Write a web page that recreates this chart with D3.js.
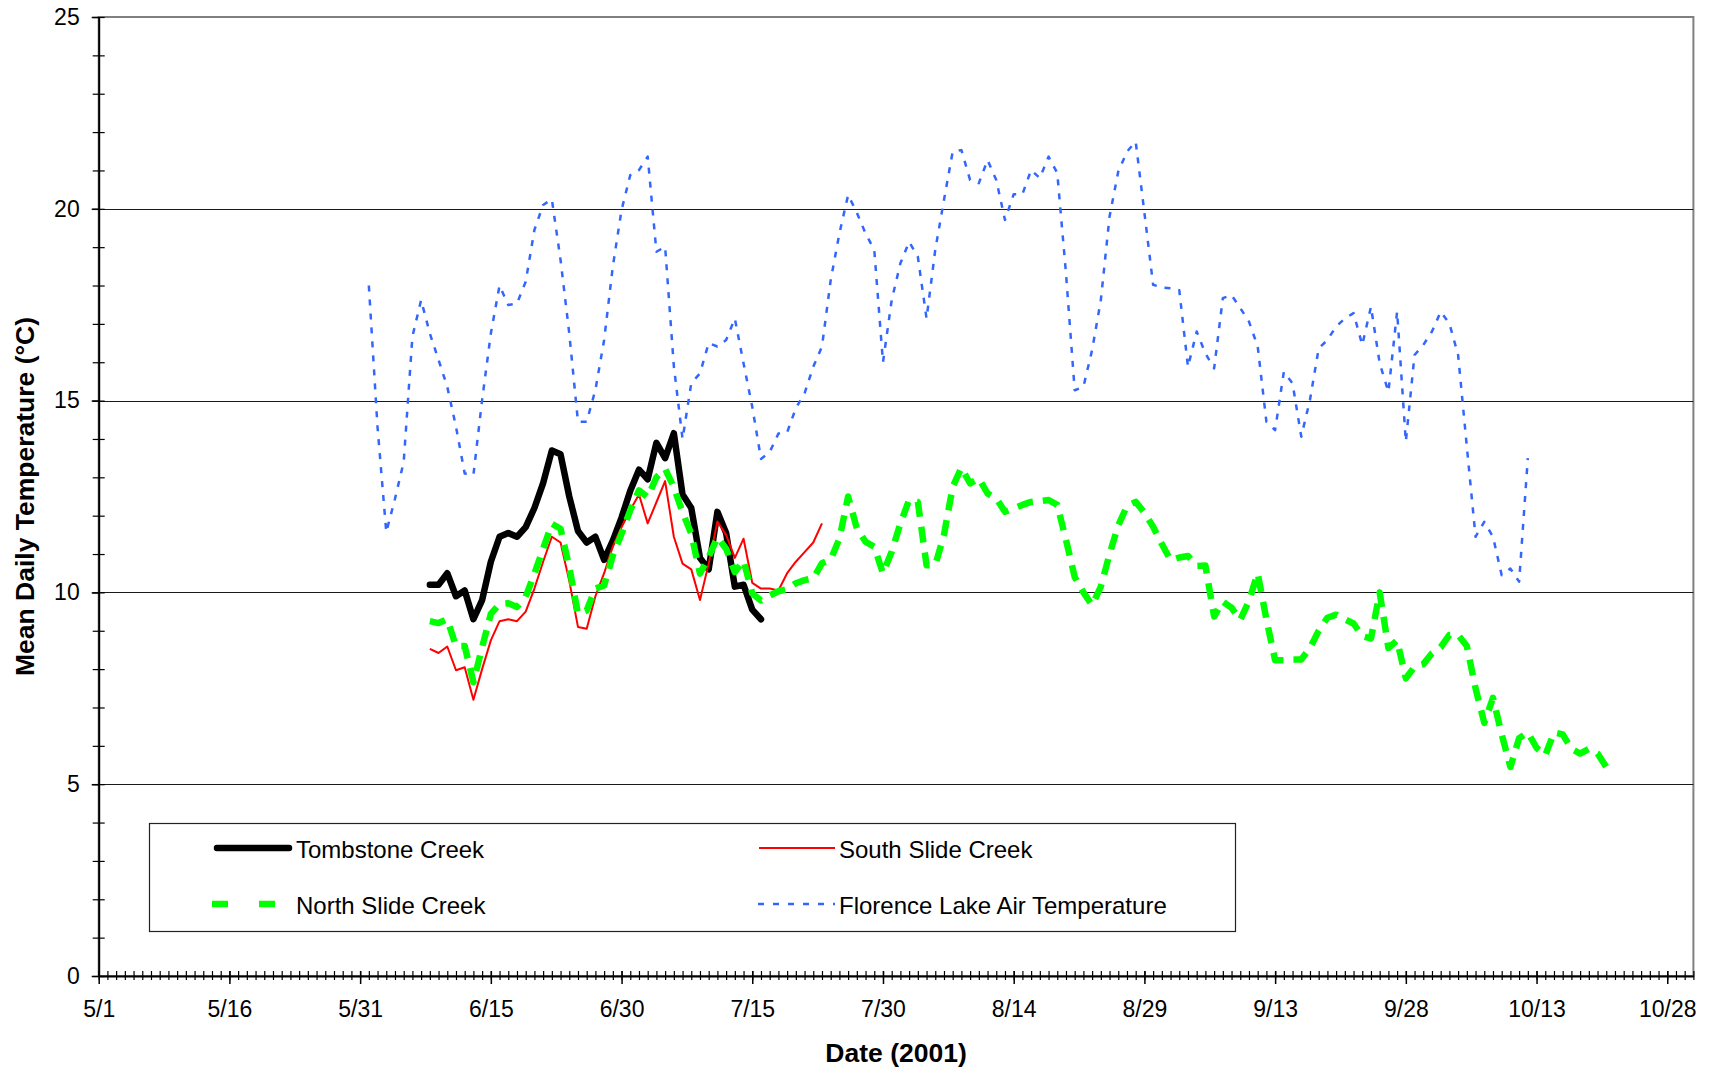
<!DOCTYPE html>
<html>
<head>
<meta charset="utf-8">
<script src="https://cdn.jsdelivr.net/npm/d3@7"></script>
<style>
body { margin: 0; background: #fff; }
text { font-family: "Liberation Sans", Arial, sans-serif; fill: #000; }
</style>
</head>
<body>
<script>
var width = 1709;
var height = 1071;

// daily means, one value per day from the start date
var tombstoneStart = "2001-06-08";
var tombstone = [10.2, 10.2, 10.5, 9.9, 10.05, 9.3, 9.8, 10.8, 11.45, 11.55, 11.45, 11.7, 12.2, 12.85,
    13.7, 13.6, 12.5, 11.6, 11.3, 11.45, 10.85, 11.35, 11.95, 12.65, 13.2, 12.95, 13.9, 13.5, 14.15,
    12.55, 12.2, 10.9, 10.6, 12.1, 11.55, 10.15, 10.2, 9.55, 9.3];

var southSlideStart = "2001-06-08";
var southSlide = [8.53, 8.42, 8.59, 7.97, 8.05, 7.2, 8.0, 8.75, 9.25, 9.3, 9.25, 9.5, 10.1, 10.8,
    11.45, 11.3, 10.3, 9.1, 9.05, 9.9, 10.5, 11.2, 11.7, 12.15, 12.55, 11.8, 12.35, 12.9, 11.45,
    10.75, 10.6, 9.8, 10.75, 11.85, 11.5, 10.9, 11.4, 10.25, 10.1, 10.1, 10.05, 10.5, 10.8, 11.05,
    11.3, 11.8];

var northSlideStart = "2001-06-08";
var northSlide = [9.25, 9.2, 9.3, 8.6, 8.6, 7.66, 8.57, 9.44, 9.7, 9.72, 9.62, 9.88, 10.49, 11.14,
    11.79, 11.66, 10.66, 9.44, 9.53, 10.1, 10.18, 10.96, 11.53, 12.14, 12.66, 12.48, 13.0, 13.22,
    12.74, 12.09, 11.53, 10.49, 10.92, 11.44, 11.14, 10.53, 10.83, 9.97, 9.79, 9.92, 10.03, 10.08,
    10.24, 10.32, 10.37, 10.76, 10.86, 11.4, 12.5, 11.67, 11.32, 11.19, 10.5, 11.06, 11.8, 12.41,
    12.36, 10.71, 10.71, 11.5, 12.75, 13.25, 12.84, 12.97, 12.58, 12.45, 12.1, 12.19, 12.28, 12.36,
    12.38, 12.41, 12.28, 11.37, 10.4, 10.0, 9.67, 10.15, 11.0, 11.75, 12.25, 12.36, 12.08, 11.71,
    11.26, 10.84, 10.91, 10.95, 10.69, 10.7, 9.37, 9.76, 9.6, 9.28, 9.78, 10.5, 9.3, 8.23, 8.23,
    8.25, 8.25, 8.55, 9.0, 9.34, 9.42, 9.3, 9.19, 8.86, 8.8, 10.0, 8.55, 8.75, 7.76, 8.06, 8.13,
    8.41, 8.57, 8.89, 8.89, 8.6, 7.5, 6.6, 7.25, 6.3, 5.45, 6.2, 6.35, 5.95, 5.75, 6.35, 6.3, 5.92,
    5.8, 5.92, 5.8, 5.45];

var florenceStart = "2001-06-01";
var florence = [18.0, 14.3, 11.57, 12.44, 13.4, 16.67, 17.62, 16.75, 16.06, 15.36, 14.32, 13.1,
    13.06, 15.02, 16.75, 18.0, 17.49, 17.53, 18.1, 19.45, 20.1, 20.25, 18.67, 16.75, 14.45, 14.45,
    15.28, 16.58, 18.5, 19.97, 20.88, 21.01, 21.36, 18.88, 19.01, 15.9, 14.0, 15.45, 15.71, 16.5,
    16.41, 16.58, 17.14, 15.97, 14.84, 13.48, 13.66, 14.14, 14.17, 14.8, 15.19, 15.88, 16.41, 18.14,
    19.36, 20.36, 19.9, 19.36, 18.93, 16.0, 17.62, 18.58, 19.14, 18.75, 17.14, 18.93, 20.23, 21.49,
    21.53, 20.75, 20.67, 21.27, 20.75, 19.71, 20.38, 20.38, 21.01, 20.8, 21.36, 20.93, 18.32, 15.27,
    15.36, 16.32, 17.62, 19.8, 20.97, 21.49, 21.75, 19.9, 18.02, 17.95, 17.93, 17.88, 15.88, 16.8,
    16.23, 15.84, 17.67, 17.75, 17.41, 17.06, 16.41, 14.45, 14.23, 15.75, 15.45, 14.06, 15.02, 16.36,
    16.58, 16.93, 17.14, 17.28, 16.45, 17.45, 15.97, 15.23, 17.32, 13.93, 16.19, 16.45, 16.8, 17.32,
    17.01, 16.19, 13.8, 11.45, 11.84, 11.45, 10.45, 10.62, 10.28, 13.5];

var seriesNames = ["Tombstone Creek", "South Slide Creek", "North Slide Creek", "Florence Lake Air Temperature"];
var xTickLabels = ["5/1", "5/16", "5/31", "6/15", "6/30", "7/15", "7/30", "8/14", "8/29", "9/13", "9/28", "10/13", "10/28"];
var yTickLabels = [0, 5, 10, 15, 20, 25];

var plotLeft = 98.7, plotRight = 1693.4, plotTop = 17, plotBottom = 976;

var parseDay = d3.utcParse("%Y-%m-%d");
var parseTick = d3.utcParse("%Y/%m/%d");

function toPoints(start, values) {
    var s = parseDay(start);
    return values.map(function(v, i) { return { date: d3.utcDay.offset(s, i), value: v }; });
}

var svg = d3.select("body")
    .append("svg")
    .attr("width", width)
    .attr("height", height);

var x = d3.scaleUtc()
    .domain([parseDay("2001-05-01"), parseDay("2001-10-31")])
    .range([plotLeft, plotRight]);

var y = d3.scaleLinear()
    .domain([0, 25])
    .range([plotBottom, plotTop]);

// plot frame
svg.append("rect")
    .attr("x", plotLeft)
    .attr("y", plotTop)
    .attr("width", plotRight - plotLeft)
    .attr("height", plotBottom - plotTop)
    .attr("fill", "none")
    .attr("stroke", "#808080")
    .attr("stroke-width", 2);

svg.selectAll(".grid")
    .data(yTickLabels.filter(function(d) { return d > 0 && d < 25; }))
    .enter()
    .append("line")
    .attr("class", "grid")
    .attr("x1", plotLeft)
    .attr("x2", plotRight)
    .attr("y1", function(d) { return Math.round(y(d)) + 0.5; })
    .attr("y2", function(d) { return Math.round(y(d)) + 0.5; })
    .attr("stroke", "#1a1a1a")
    .attr("stroke-width", 1);

// x axis: daily minor ticks crossing, major ticks every 15 days
var days = d3.utcDay.range(x.domain()[0], d3.utcDay.offset(x.domain()[1], 1));
var xMinor = svg.append("g")
    .attr("transform", "translate(0," + plotBottom + ")")
    .call(d3.axisBottom(x).tickValues(days).tickSize(4).tickFormat(""));
xMinor.select(".domain").remove();
xMinor.selectAll(".tick line").attr("y1", -5).attr("stroke-width", 1.2);

var majorDates = xTickLabels.map(function(l) { return parseTick("2001/" + l); });
var xMajor = svg.append("g")
    .attr("transform", "translate(0," + plotBottom + ")")
    .call(d3.axisBottom(x).tickValues(majorDates).tickSize(8).tickPadding(17).tickSizeOuter(0)
        .tickFormat(d3.utcFormat("%-m/%-d")));
xMajor.select(".domain").attr("stroke-width", 2);
xMajor.selectAll(".tick line").attr("y1", -5).attr("stroke-width", 1.5);
xMajor.selectAll("text").attr("font-size", "23px").attr("font-family", "Liberation Sans, Arial, sans-serif");

// y axis
var yMinor = svg.append("g")
    .attr("transform", "translate(" + plotLeft + ",0)")
    .call(d3.axisLeft(y).tickValues(d3.range(0, 26)).tickSize(6).tickFormat(""));
yMinor.select(".domain").remove();
yMinor.selectAll(".tick line").attr("x1", 6).attr("stroke-width", 1.2);

var yMajor = svg.append("g")
    .attr("transform", "translate(" + plotLeft + ",0)")
    .call(d3.axisLeft(y).tickValues(yTickLabels).tickSize(7).tickPadding(12).tickSizeOuter(0));
yMajor.select(".domain").attr("stroke-width", 2);
yMajor.selectAll(".tick line").attr("stroke-width", 1.5);
yMajor.selectAll("text").attr("font-size", "23px").attr("font-family", "Liberation Sans, Arial, sans-serif");

// series
var line = d3.line()
    .x(function(d) { return x(d.date); })
    .y(function(d) { return y(d.value); });

var series = [
    { name: seriesNames[0], points: toPoints(tombstoneStart, tombstone), color: "#000000", width: 6.5, dash: null, cap: "round" },
    { name: seriesNames[1], points: toPoints(southSlideStart, southSlide), color: "#ff0000", width: 2, dash: null, cap: "butt" },
    { name: seriesNames[2], points: toPoints(northSlideStart, northSlide), color: "#00ff00", width: 6.5, dash: "16,10", cap: "butt" },
    { name: seriesNames[3], points: toPoints(florenceStart, florence), color: "#3366ff", width: 2.5, dash: "6,8", cap: "butt" }
];

svg.selectAll(".series")
    .data(series)
    .enter()
    .append("path")
    .attr("class", "series")
    .attr("d", function(d) { return line(d.points); })
    .attr("fill", "none")
    .attr("stroke", function(d) { return d.color; })
    .attr("stroke-width", function(d) { return d.width; })
    .attr("stroke-dasharray", function(d) { return d.dash; })
    .attr("stroke-linecap", function(d) { return d.cap; })
    .attr("stroke-linejoin", "round");

// legend
svg.append("rect")
    .attr("x", 149.5)
    .attr("y", 823.5)
    .attr("width", 1086)
    .attr("height", 108)
    .attr("fill", "#fff")
    .attr("stroke", "#222")
    .attr("stroke-width", 1.2);

var legendPos = [
    { x1: 217, x2: 289, ly: 848, tx: 296, ty: 858, dash: null },
    { x1: 759, x2: 835, ly: 848, tx: 839, ty: 858, dash: null },
    { x1: 212, x2: 292, ly: 904, tx: 296, ty: 914, dash: "16,31" },
    { x1: 758, x2: 835, ly: 904, tx: 839, ty: 914, dash: "6,9" }
];

var legend = svg.selectAll(".legend")
    .data(series)
    .enter()
    .append("g")
    .attr("class", "legend");

legend.append("line")
    .attr("x1", function(d, i) { return legendPos[i].x1; })
    .attr("x2", function(d, i) { return legendPos[i].x2; })
    .attr("y1", function(d, i) { return legendPos[i].ly; })
    .attr("y2", function(d, i) { return legendPos[i].ly; })
    .attr("stroke", function(d) { return d.color; })
    .attr("stroke-width", function(d) { return d.width; })
    .attr("stroke-dasharray", function(d, i) { return legendPos[i].dash; })
    .attr("stroke-linecap", function(d) { return d.cap; });

legend.append("text")
    .attr("x", function(d, i) { return legendPos[i].tx; })
    .attr("y", function(d, i) { return legendPos[i].ty; })
    .attr("font-size", "24px")
    .text(function(d) { return d.name; });

// axis titles
svg.append("text")
    .attr("x", (plotLeft + plotRight) / 2)
    .attr("y", 1062)
    .attr("text-anchor", "middle")
    .attr("font-size", "26.5px")
    .attr("font-weight", "bold")
    .text("Date (2001)");

svg.append("text")
    .attr("transform", "translate(34," + (plotTop + plotBottom) / 2 + ") rotate(-90)")
    .attr("text-anchor", "middle")
    .attr("font-size", "26.5px")
    .attr("font-weight", "bold")
    .text("Mean Daily Temperature (°C)");
</script>
</body>
</html>
